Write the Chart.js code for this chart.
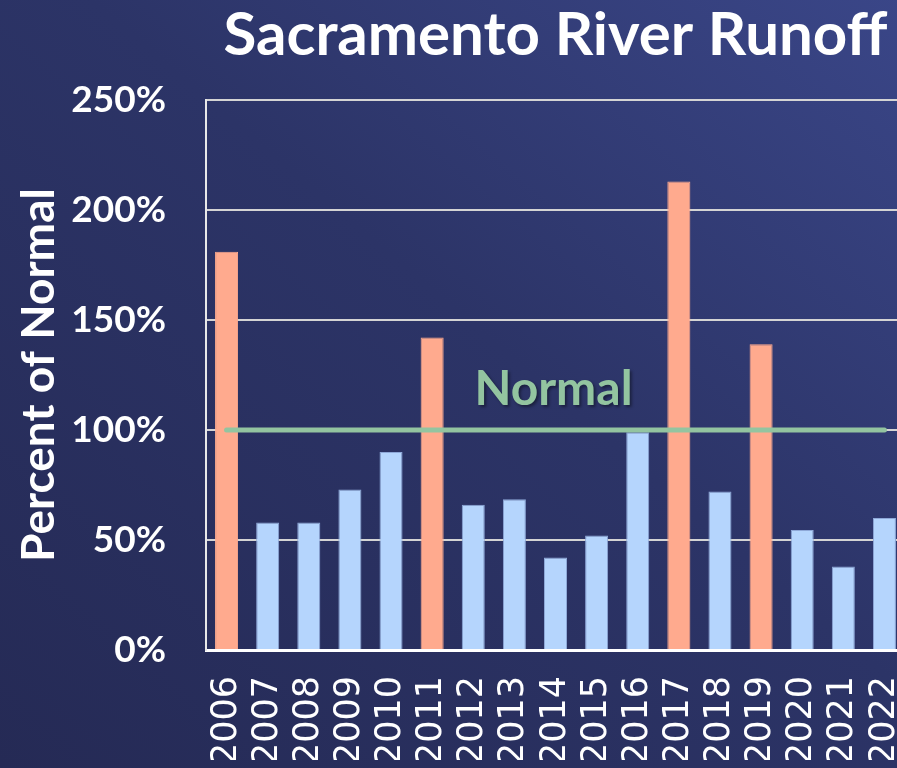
<!DOCTYPE html>
<html>
<head>
<meta charset="utf-8">
<script src="https://cdn.jsdelivr.net/npm/chart.js@4"></script>
<style>
  html, body { margin: 0; padding: 0; overflow: hidden; background: #2a3060; }
  #chart { display: block; background: linear-gradient(to top right, #252a55 0%, #2c3467 55%, #3a4688 100%); }
</style>
</head>
<body>
<canvas id="chart" width="905" height="768"></canvas>
<script>
const years = ['2006','2007','2008','2009','2010','2011','2012','2013','2014','2015','2016','2017','2018','2019','2020','2021','2022'];
const runoff = [181, 58, 58, 73, 90, 142, 66, 68.5, 42, 52, 99, 213, 72, 139, 54.5, 38, 60]; // percent of normal
const normal = [100, 100, 100, 100, 100, 100, 100, 100, 100, 100, 100, 100, 100, 100, 100, 100, 100];
const yTicks = [0, 50, 100, 150, 200, 250];

const wetColor = '#ffaa8e';
const dryColor = '#b5d5fd';

// label for the normal line
const normalLabel = {
  id: 'normalLabel',
  afterDatasetsDraw(chart) {
    const ctx = chart.ctx;
    const area = chart.chartArea;
    const y = chart.scales.y.getPixelForValue(100);
    ctx.save();
    ctx.font = 'bold 48px Lato';
    ctx.fillStyle = '#93c4a0';
    ctx.textAlign = 'center';
    ctx.textBaseline = 'middle';
    ctx.shadowColor = 'rgba(0,0,0,0.4)';
    ctx.shadowOffsetX = 2; ctx.shadowOffsetY = 2; ctx.shadowBlur = 3;
    ctx.fillText('Normal', (area.left + area.right) / 2 - 2, y - 40);
    ctx.restore();
  }
};

new Chart('chart', {
  data: {
    labels: years,
    datasets: [
      {
        type: 'line',
        label: 'Normal',
        data: normal,
        borderColor: '#93c4a0',
        borderWidth: 5,
        borderCapStyle: 'round',
        pointRadius: 0,
        order: 0
      },
      {
        type: 'bar',
        label: 'Runoff',
        data: runoff,
        backgroundColor: runoff.map(v => v >= 100 ? wetColor : dryColor),
        borderColor: runoff.map(v => v >= 100 ? wetColor : '#8ea8d8'),
        borderWidth: 1,
        barPercentage: 0.56,
        categoryPercentage: 1,
        order: 1
      }
    ]
  },
  plugins: [normalLabel],
  options: {
    responsive: false,
    animation: false,
    layout: { padding: { left: 0, right: 0, top: 0, bottom: 8 } },
    plugins: {
      legend: { display: false },
      tooltip: { enabled: false },
      title: {
        display: true,
        text: 'Sacramento River Runoff',
        color: '#ffffff',
        fullSize: false,
        font: { family: 'Lato', size: 60, weight: 'bold' },
        padding: { top: 0, bottom: 28 }
      }
    },
    scales: {
      x: {
        afterFit: s => { s.height = 110; s.paddingLeft = 0; s.paddingRight = 0; },
        grid: { display: false },
        border: { display: true, color: '#ffffff', width: 3 },
        ticks: {
          color: '#ffffff',
          autoSkip: false,
          minRotation: 90,
          maxRotation: 90,
          padding: 18,
          font: { family: 'DejaVu Sans', size: 35 }
        }
      },
      y: {
        min: 0,
        max: 250,
        afterFit: s => { s.width = 206; },
        afterBuildTicks: s => { s.ticks = yTicks.map(v => ({ value: v })); },
        grid: { color: '#d4d4d4', lineWidth: 2, drawTicks: false },
        border: { display: true, color: '#e8e8e8', width: 2 },
        ticks: {
          color: '#ffffff',
          padding: 40,
          font: { family: 'Lato', size: 37, weight: 'bold' },
          callback: v => v + '%'
        },
        title: {
          display: true,
          text: 'Percent of Normal',
          color: '#ffffff',
          padding: { top: 12, bottom: 0 },
          font: { family: 'Lato', size: 46, weight: 'bold' }
        }
      }
    }
  }
});
</script>
</body>
</html>
